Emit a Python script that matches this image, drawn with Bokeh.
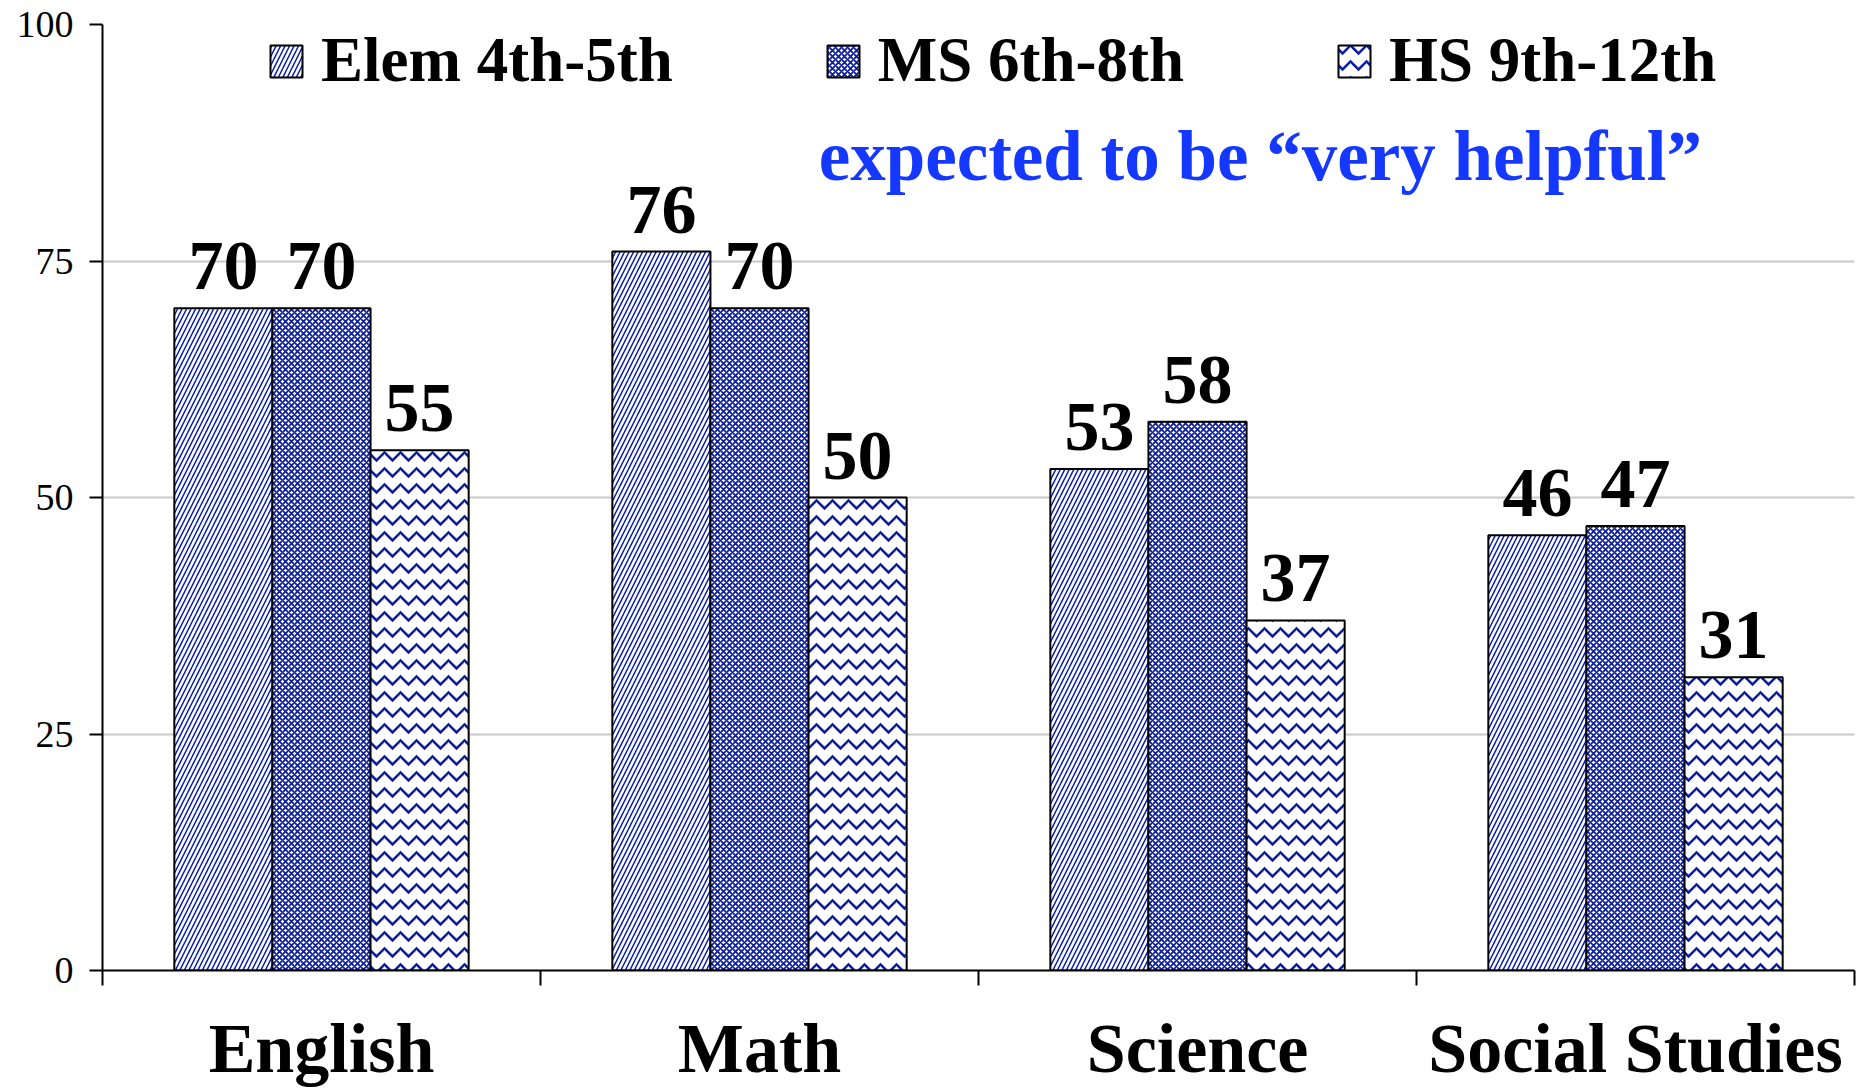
from bokeh.plotting import figure
from bokeh.models import (Range1d, FixedTicker, LinearAxis, Legend, LegendItem,
                          Label, ColumnDataSource)
from bokeh.core.properties import value
from bokeh.embed import file_html
from bokeh.resources import INLINE

# ---- data ----
categories = ["English", "Math", "Science", "Social Studies"]
series = ["Elem 4th-5th", "MS 6th-8th", "HS 9th-12th"]
elem = [70, 76, 53, 46]
ms = [70, 70, 58, 47]
hs = [55, 50, 37, 31]
y_ticks = [0, 25, 50, 75, 100]
annotation = "expected to be \u201cvery helpful\u201d"

SERIF = "Liberation Serif"
HATCH = "#0A1EA8"

p = figure(width=1860, height=1091, output_backend="svg", toolbar_location=None,
           x_range=Range1d(0, len(categories)), y_range=Range1d(0, 100),
           min_border_left=102, min_border_right=6, min_border_top=24,
           min_border_bottom=121)
p.outline_line_color = None
p.background_fill_color = "white"
p.border_fill_color = "white"

centers = [i + 0.5 for i in range(len(categories))]
w = 0.224
offsets = [-w, 0, w]
patterns = ["/", "x", "v"]
scales = [9, 6, 16]
weights = [1.5, 1.8, 2.5]
renderers = []
for vals, off, pat, sc, wt in zip([elem, ms, hs], offsets, patterns, scales, weights):
    src = ColumnDataSource(dict(x=[c + off for c in centers], top=vals,
                                label=[str(v) for v in vals]))
    r = p.vbar(x="x", top="top", bottom=0, width=w, source=src,
               fill_color="white", line_color="black", line_width=2,
               hatch_pattern=pat, hatch_color=HATCH, hatch_scale=sc, hatch_weight=wt)
    p.text(x="x", y="top", text="label", source=src, text_align="center",
           text_baseline="alphabetic", y_offset=-42, text_font=value(SERIF),
           text_font_style="bold", text_font_size="70px", text_color="black")
    renderers.append(r)

# y axis
ya = p.yaxis[0]
ya.ticker = FixedTicker(ticks=y_ticks, minor_ticks=[])
ya.axis_line_width = 2
ya.axis_line_color = "black"
ya.major_tick_line_width = 2
ya.major_tick_line_color = "black"
ya.major_tick_out = 13
ya.major_tick_in = 0
ya.minor_tick_line_color = None
ya.major_label_text_font = SERIF
ya.major_label_text_font_size = "38px"
ya.major_label_text_color = "black"
ya.major_label_standoff = 16

p.ygrid[0].ticker = FixedTicker(ticks=y_ticks[1:], minor_ticks=[])
p.ygrid.grid_line_color = "#C8C8C8"
p.ygrid.grid_line_width = 2
p.xgrid.grid_line_color = None

# x axis: boundary ticks (no labels); ticks drawn outward via negative tick_in
xa = p.xaxis[0]
xa.ticker = FixedTicker(ticks=list(range(len(categories) + 1)), minor_ticks=[])
xa.axis_line_width = 2
xa.axis_line_color = "black"
xa.major_tick_line_width = 2
xa.major_tick_line_color = "black"
xa.major_tick_out = 0
xa.major_tick_in = -15
xa.minor_tick_line_color = None
xa.major_label_overrides = {i: "" for i in range(len(categories) + 1)}
xa.major_label_text_font_size = "0px"
xa.major_label_text_color = None
xa.major_label_standoff = 0

# x axis: category labels
xa2 = LinearAxis(ticker=FixedTicker(ticks=centers, minor_ticks=[]),
                 major_label_overrides={c: cat for c, cat in zip(centers, categories)},
                 axis_line_color=None, major_tick_line_color=None,
                 minor_tick_line_color=None, major_label_standoff=33,
                 major_label_text_font=SERIF, major_label_text_font_style="bold",
                 major_label_text_font_size="70px", major_label_text_color="black")
p.add_layout(xa2, "below")

legend = Legend(items=[LegendItem(label=s, renderers=[r]) for s, r in zip(series, renderers)],
                orientation="horizontal", location=(164, 873),
                glyph_width=40, glyph_height=40, label_standoff=15, spacing=150,
                padding=18, margin=0, border_line_color=None,
                background_fill_color="white", background_fill_alpha=1,
                label_text_font=SERIF, label_text_font_style="bold",
                label_text_font_size="63px", label_text_color="black")
p.add_layout(legend)

p.add_layout(Label(x=1.635, y=86.1, text=annotation, text_font=SERIF,
                   text_font_style="bold", text_font_size="71px",
                   text_color="#1438FF", text_baseline="alphabetic"))

open("out.html", "w").write(file_html(p, INLINE))
